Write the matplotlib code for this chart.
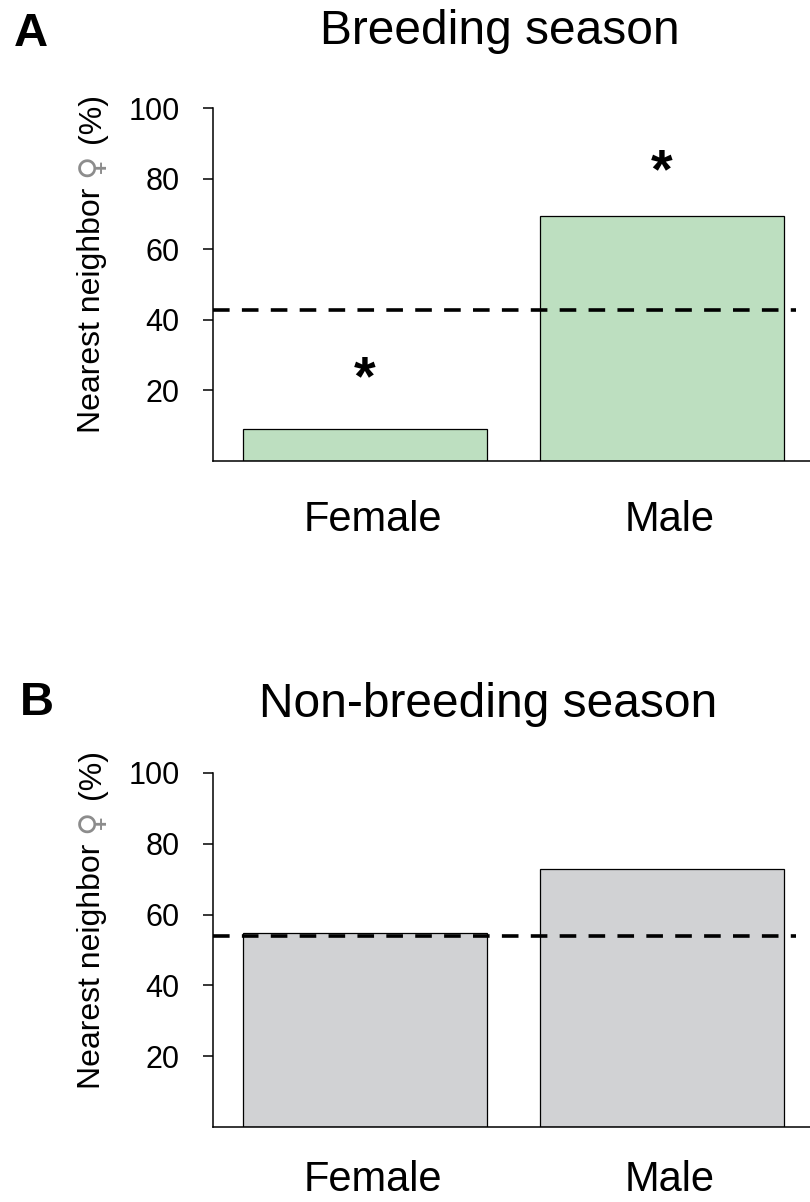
import matplotlib
matplotlib.use('Agg')
import matplotlib.pyplot as plt

plt.rcParams['font.family'] = ['Liberation Sans', 'DejaVu Sans']

# data
categories = ['Female', 'Male']
breeding_pct = [9.0, 69.3]
nonbreeding_pct = [54.8, 72.9]
breeding_expected = 42.8
nonbreeding_expected = 54.0
breeding_stars = ['*', '*']
breeding_star_y = [22.8, 81.5]
y_ticks = [20, 40, 60, 80, 100]

panels = [
    ('A', 'Breeding season', breeding_pct, breeding_expected, '#bddfc0', breeding_stars, breeding_star_y),
    ('B', 'Non-breeding season', nonbreeding_pct, nonbreeding_expected, '#d1d2d4', None, None),
]

W, H = 810, 1202
fig = plt.figure(figsize=(W / 100, H / 100), dpi=100)

# axes boxes in pixels: (left, top, right, bottom)
boxes = [(213, 108, 810, 461), (213, 773, 810, 1127)]
title_pos = [(500, 44), (488, 717)]
letter_pos = [(14, 46), (20, 715)]
xlab_pad = [28, 24]
ylab_bottom = [433, 1089]

for i, (letter, title, vals, expected, color, stars, star_y) in enumerate(panels):
    l, t, r, b = boxes[i]
    ax = fig.add_axes([l / W, 1 - b / H, (r - l) / W, (b - t) / H])
    x = list(range(len(categories)))
    ax.bar(x, vals, width=0.82, color=color, edgecolor='black', linewidth=0.9, zorder=2)
    ax.plot([-0.512, 1.45], [expected, expected], color='black', lw=2.6,
            dashes=(4.6, 3.4), zorder=3, solid_capstyle='butt')
    if stars:
        for xi, s, sy in zip(x, stars, star_y):
            ax.text(xi, sy, s, ha='center', va='center', fontsize=40, fontweight='bold')

    ax.set_xlim(-0.512, 1.498)
    ax.set_ylim(0, 100)
    ax.set_yticks(y_ticks)
    ax.set_yticklabels([str(v) for v in y_ticks], fontsize=22)
    # labels sit a little right of the bar centres in the reference
    ax.set_xticks([xi + 0.025 for xi in x])
    ax.set_xticklabels(categories, fontsize=30)
    ax.tick_params(axis='x', length=0, pad=xlab_pad[i])
    ax.tick_params(axis='y', length=7, width=1.1, pad=17, direction='out')
    for side in ['top', 'right']:
        ax.spines[side].set_visible(False)
    for side in ['left', 'bottom']:
        ax.spines[side].set_linewidth(1.1)

    fig.text(title_pos[i][0] / W, 1 - title_pos[i][1] / H, title, ha='center', va='baseline', fontsize=34.5)
    fig.text(letter_pos[i][0] / W, 1 - letter_pos[i][1] / H, letter, ha='left', va='baseline',
             fontsize=34, fontweight='bold')

    # y label in pieces so the female sign can be grey
    fig.canvas.draw()
    rend = fig.canvas.get_renderer()
    pieces = [('Nearest neighbor', 'black', 0, 23, ['Liberation Sans']),
              ('\u2640', '#8c8c8c', 11, 23, ['DejaVu Sans']),
              ('(%)', 'black', 10, 23, ['Liberation Sans'])]
    ylab_x = 92 / W
    y_cur = 1 - ylab_bottom[i] / H
    for txt, col, gap, fs, fam in pieces:
        y_cur += gap / H
        tt = fig.text(ylab_x, y_cur, txt, rotation=90, ha='center', va='bottom',
                      fontsize=fs, color=col, family=fam)
        fig.canvas.draw()
        bb = tt.get_window_extent(rend)
        y_cur = bb.y1 / H

fig.savefig('out.png', dpi=100)
